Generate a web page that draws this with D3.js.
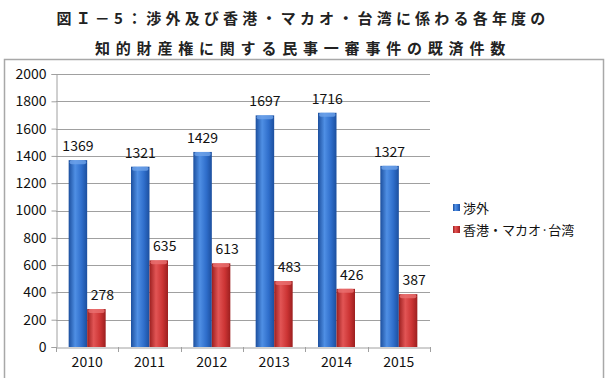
<!DOCTYPE html>
<html>
<head>
<meta charset="utf-8">
<script src="https://cdn.jsdelivr.net/npm/d3@7"></script>
<style>
    body { margin: 0; background: #fff; }
    svg text { font-family: "Noto Sans CJK JP", "Noto Sans", sans-serif; }
</style>
</head>
<body>
<svg id="chart" width="606" height="378"></svg>
<script>
// chart data
var years = ['2010', '2011', '2012', '2013', '2014', '2015'];
var foreignCases = [1369, 1321, 1429, 1697, 1716, 1327];
var hkMacauTaiwanCases = [278, 635, 613, 483, 426, 387];
var seriesNames = ['渉外', '香港・マカオ·台湾'];
var yTicks = [0, 200, 400, 600, 800, 1000, 1200, 1400, 1600, 1800, 2000];
var titleLines = ['図Ｉ－5：渉外及び香港・マカオ・台湾に係わる各年度の', '知的財産権に関する民事一審事件の既済件数'];

var svg = d3.select('#chart');

var plot = {left: 56, right: 430, top: 74, bottom: 347};

// title, two bold lines with wide letter spacing
svg.selectAll('.title-line').data(titleLines).enter().append('text')
    .attr('class', 'title-line')
    .attr('x', 303)
    .attr('y', function(d, i) { return 24 + i * 30; })
    .attr('text-anchor', 'middle')
    .attr('font-size', 15)
    .attr('font-weight', 'bold')
    .attr('letter-spacing', function(d, i) { return i ? 5.8 : 4.2; })
    .attr('fill', '#222')
    .text(function(d) { return d; });

// chart frame
svg.append('rect')
    .attr('x', 4.5).attr('y', 59.5)
    .attr('width', 599).attr('height', 330)
    .attr('fill', '#fff')
    .attr('stroke', '#a8a8a8')
    .attr('stroke-width', 1.5);

var x = d3.scaleBand().domain(years).range([plot.left, plot.right]);
var y = d3.scaleLinear().domain([0, 2000]).range([plot.bottom, plot.top]);

// gradients give the bars their rounded look
var defs = svg.append('defs');
function addGradient(id, edge, mid, light) {
    var g = defs.append('linearGradient').attr('id', id)
        .attr('x1', '0%').attr('x2', '100%').attr('y1', '0%').attr('y2', '0%');
    g.append('stop').attr('offset', '0%').attr('stop-color', edge);
    g.append('stop').attr('offset', '35%').attr('stop-color', light);
    g.append('stop').attr('offset', '70%').attr('stop-color', mid);
    g.append('stop').attr('offset', '100%').attr('stop-color', edge);
}
addGradient('grad-blue', '#1c4f9e', '#2f6ecb', '#4f8fe4');
addGradient('grad-red', '#9c1f1f', '#cc3434', '#e25555');

// gridlines
svg.append('g').selectAll('line').data(yTicks.slice(1)).enter().append('line')
    .attr('x1', plot.left).attr('x2', plot.right)
    .attr('y1', function(d) { return Math.round(y(d)) + 0.5; })
    .attr('y2', function(d) { return Math.round(y(d)) + 0.5; })
    .attr('stroke', '#a0a0a0')
    .attr('stroke-width', 1);

// y axis
var yAxis = svg.append('g')
    .attr('transform', 'translate(' + (plot.left + 0.5) + ',0)')
    .call(d3.axisLeft(y).tickValues(yTicks).tickSize(5).tickPadding(5).tickFormat(d3.format('d')));
yAxis.select('.domain').attr('stroke', '#a0a0a0');
yAxis.selectAll('.tick line').attr('stroke', '#a0a0a0');
yAxis.selectAll('.tick text').attr('font-size', 14).attr('fill', '#111');

// x axis, ticks sit on category boundaries
var xAxis = svg.append('g')
    .attr('transform', 'translate(0,' + (plot.bottom + 0.5) + ')')
    .call(d3.axisBottom(x).tickSize(0).tickPadding(10));
xAxis.select('.domain').attr('stroke', '#a0a0a0');
xAxis.selectAll('.tick text').attr('font-size', 14).attr('fill', '#111');
svg.append('g').selectAll('line').data(years.concat(['end'])).enter().append('line')
    .attr('x1', function(d, i) { return Math.round(plot.left + i * x.bandwidth()) + 0.5; })
    .attr('x2', function(d, i) { return Math.round(plot.left + i * x.bandwidth()) + 0.5; })
    .attr('y1', plot.bottom).attr('y2', plot.bottom + 5)
    .attr('stroke', '#a0a0a0');

// bars
var barWidth = 18.5;
var series = [
    {name: seriesNames[0], values: foreignCases, fill: 'url(#grad-blue)', cap: '#6ea3ea', offset: -barWidth, labelDx: 0},
    {name: seriesNames[1], values: hkMacauTaiwanCases, fill: 'url(#grad-red)', cap: '#ea7070', offset: 0, labelDx: 6}
];

series.forEach(function(s) {
    var g = svg.append('g');
    var data = years.map(function(yr, i) { return {year: yr, value: s.values[i]}; });
    var cx = function(d) { return x(d.year) + x.bandwidth() / 2 + s.offset; };

    g.selectAll('.bar').data(data).enter().append('rect')
        .attr('class', 'bar')
        .attr('x', cx)
        .attr('y', function(d) { return y(d.value); })
        .attr('width', barWidth)
        .attr('height', function(d) { return plot.bottom - y(d.value); })
        .attr('fill', s.fill);

    // light cap on top of each bar
    g.selectAll('.cap').data(data).enter().append('rect')
        .attr('class', 'cap')
        .attr('x', function(d) { return cx(d) + 1; })
        .attr('y', function(d) { return y(d.value); })
        .attr('width', barWidth - 2)
        .attr('height', 4)
        .attr('rx', 2)
        .attr('fill', s.cap)
        .attr('opacity', 0.8);

    g.selectAll('.value-label').data(data).enter().append('text')
        .attr('class', 'value-label')
        .attr('x', function(d) { return cx(d) + barWidth / 2 + s.labelDx; })
        .attr('y', function(d) { return y(d.value) - 9; })
        .attr('text-anchor', 'middle')
        .attr('font-size', 14)
        .attr('fill', '#111')
        .text(function(d) { return d.value; });
});

// legend
var legend = svg.append('g').selectAll('g').data(series).enter().append('g')
    .attr('transform', function(d, i) { return 'translate(453,' + (208 + i * 22) + ')'; });
legend.append('rect')
    .attr('x', 0).attr('y', -4)
    .attr('width', 7).attr('height', 7)
    .attr('fill', function(d) { return d.fill; });
legend.append('text')
    .attr('x', 10).attr('y', 0)
    .attr('dy', '0.35em')
    .attr('font-size', 13)
    .attr('fill', '#111')
    .text(function(d) { return d.name; });
</script>
</body>
</html>
